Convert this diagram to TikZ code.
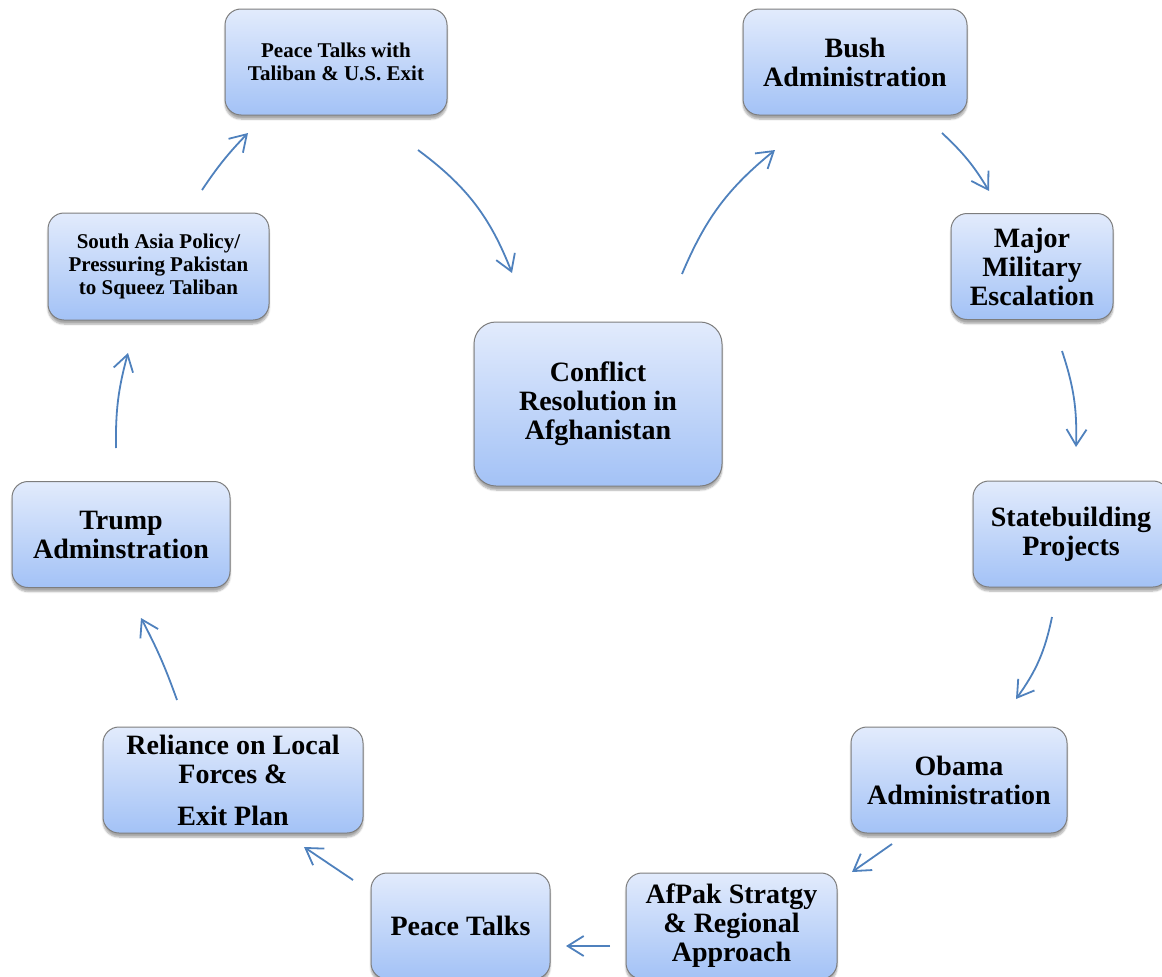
\documentclass[tikz,border=0pt]{standalone}
\usepackage{fontspec}
\setmainfont{Liberation Serif}
\usetikzlibrary{arrows.meta,shadows.blur}
\definecolor{boxtop}{RGB}{226,235,252}
\definecolor{boxbot}{RGB}{163,194,246}
\definecolor{boxline}{RGB}{125,125,125}
\definecolor{arrowblue}{RGB}{79,129,189}
\tikzset{
  box/.style={draw=boxline, line width=1pt, rounded corners=16pt,
    top color=boxtop, bottom color=boxbot,
    blur shadow={shadow xshift=0pt, shadow yshift=-4pt, shadow blur steps=6, shadow opacity=35},
    align=center, inner sep=0pt,
    font=\bfseries\fontsize{28}{29}\selectfont},
  smallbox/.style={box, font=\bfseries\fontsize{21}{23}\selectfont},
  flow/.style={draw=arrowblue, line width=1.8pt,
    -{Straight Barb[length=16pt,width=20pt,line width=1.8pt]}},
}
\begin{document}
\begin{tikzpicture}[x=1pt,y=-1pt]
\path[use as bounding box] (0,0) rectangle (1162,977);
\clip (0,0) rectangle (1162,977);

\node[smallbox, minimum width=222pt, minimum height=106pt] (tal) at (336,62) {Peace Talks with\\Taliban \& U.S. Exit};
\node[box, minimum width=224pt, minimum height=106pt] (bush) at (855,62) {Bush\\Administration};
\node[box, minimum width=162pt, minimum height=106pt] (major) at (1032,266.5) {Major\\Military\\Escalation};
\node[box, minimum width=196pt, minimum height=106pt] (state) at (1071,534) {Statebuilding\\Projects};
\node[box, minimum width=216pt, minimum height=106pt] (obama) at (959,780) {Obama\\Administration};
\node[box, minimum width=211pt, minimum height=106pt] (afpak) at (731.5,926) {AfPak Stratgy\\\& Regional\\Approach};
\node[box, minimum width=179pt, minimum height=106pt] (peace) at (460.5,926) {Peace Talks};
\node[box, minimum width=260pt, minimum height=106pt] (rel) at (233,780) {Reliance on Local\\Forces \&\\[13pt]Exit Plan};
\node[box, minimum width=218pt, minimum height=106pt] (trump) at (121,534.5) {Trump\\Adminstration};
\node[smallbox, minimum width=221pt, minimum height=107pt] (south) at (158.5,266.5) {South Asia Policy/\\Pressuring Pakistan\\to Squeez Taliban};
\node[box, rounded corners=22pt, minimum width=248pt, minimum height=164pt] (center) at (598,404) {Conflict\\Resolution in\\Afghanistan};

% connector end points
\coordinate (a1s) at (418,150);  \coordinate (a1e) at (512,273);
\coordinate (a2s) at (682,274);  \coordinate (a2e) at (775,150);
\coordinate (a3s) at (942,133);  \coordinate (a3e) at (989,191);
\coordinate (a4s) at (1062,351); \coordinate (a4e) at (1076,447);
\coordinate (a5s) at (1052,617); \coordinate (a5e) at (1016,699);
\coordinate (a6s) at (892,844);  \coordinate (a6e) at (852,872);
\coordinate (a7s) at (610,946);  \coordinate (a7e) at (566,946);
\coordinate (a8s) at (353,880);  \coordinate (a8e) at (304,847);
\coordinate (a9s) at (177,700);  \coordinate (a9e) at (141,618);
\coordinate (a10s) at (116,448); \coordinate (a10e) at (128,353);
\coordinate (a11s) at (202,190); \coordinate (a11e) at (248,133);

\draw[flow] (a1s) to[bend left=16] (a1e);
\draw[flow] (a2s) to[bend left=14] (a2e);
\draw[flow] (a3s) to[bend left=8] (a3e);
\draw[flow] (a4s) to[bend left=10] (a4e);
\draw[flow] (a5s) to[bend left=12] (a5e);
\draw[flow] (a6s) -- (a6e);
\draw[flow] (a7s) -- (a7e);
\draw[flow] (a8s) -- (a8e);
\draw[flow] (a9s) to[bend right=4] (a9e);
\draw[flow] (a10s) to[bend left=8] (a10e);
\draw[flow] (a11s) to[bend left=5] (a11e);
\end{tikzpicture}
\end{document}
